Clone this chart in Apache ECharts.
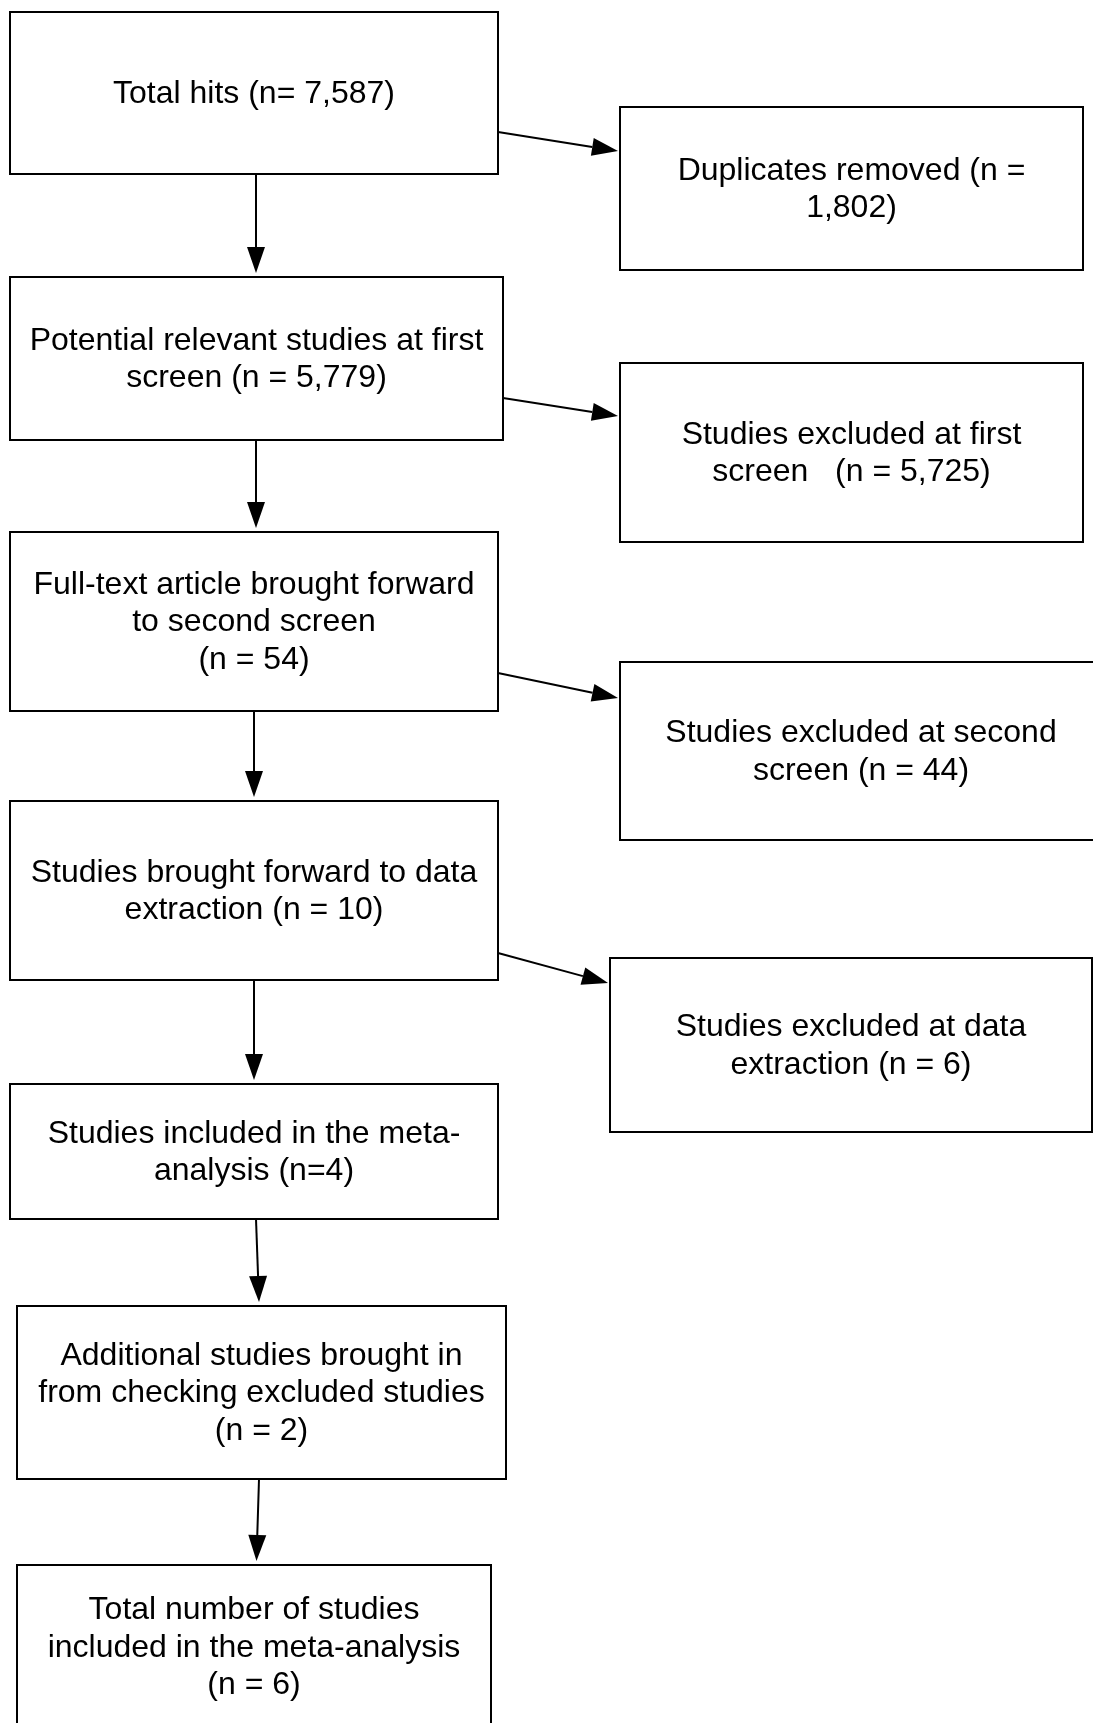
<!DOCTYPE html>
<html>
<head>
<meta charset="utf-8">
<script src="https://cdn.jsdelivr.net/npm/echarts@6/dist/echarts.min.js"></script>
<style>
  html, body { margin: 0; padding: 0; background: #ffffff; }
  #flowChart { width: 1093px; height: 1723px; }
</style>
</head>
<body>
<div id="flowChart"></div>
<script>
// texts of the flow steps
const mainLabels = [
  'Total hits (n= 7,587)',
  'Potential relevant studies at first\nscreen (n = 5,779)',
  'Full-text article brought forward\nto second screen\n(n = 54)',
  'Studies brought forward to data\nextraction (n = 10)',
  'Studies included in the meta-\nanalysis (n=4)',
  'Additional studies brought in\nfrom checking excluded studies\n(n = 2)',
  'Total number of studies\nincluded in the meta-analysis\n(n = 6)'
];
const sideLabels = [
  'Duplicates removed (n =\n1,802)',
  'Studies excluded at first\nscreen   (n = 5,725)',
  'Studies excluded at second\nscreen (n = 44)',
  'Studies excluded at data\nextraction (n = 6)'
];

// layout (axis units = pixels of the page): [x0, y0, x1, y1]
const mainBoxes = [
  [10, 12, 498, 174],
  [10, 277, 503, 440],
  [10, 532, 498, 711],
  [10, 801, 498, 980],
  [10, 1084, 498, 1219],
  [17, 1306, 506, 1479],
  [17, 1565, 491, 1729]
];
const sideBoxes = [
  [620, 107, 1083, 270],
  [620, 363, 1083, 542],
  [620, 662, 1102, 840],
  [610, 958, 1092, 1132]
];
// x of down arrows at start / end
const downArrowX = [[256, 256], [256, 256], [254, 254], [254, 254], [256, 259], [259, 256.5]];
// y of side arrows at start / end
const sideArrowY = [[132, 151], [398, 416], [673, 698], [953, 983]];

const boxData = mainBoxes.map((b, i) => [b[0], b[1], b[2], b[3], i, 0])
  .concat(sideBoxes.map((b, i) => [b[0], b[1], b[2], b[3], i, 1]));

const arrowData = [];
downArrowX.forEach((x, i) => {
  arrowData.push([x[0], mainBoxes[i][3], x[1], mainBoxes[i + 1][1] - 4]);
});
sideArrowY.forEach((y, i) => {
  arrowData.push([mainBoxes[i][2], y[0], sideBoxes[i][0] - 2, y[1]]);
});

const myChart = echarts.init(document.getElementById('flowChart'));

myChart.setOption({
  animation: false,
  backgroundColor: '#ffffff',
  grid: { left: 0, right: 0, top: 0, bottom: 0 },
  xAxis: { type: 'value', min: 0, max: 1093, show: false },
  yAxis: { type: 'value', min: 0, max: 1723, inverse: true, show: false },
  series: [
    {
      type: 'custom',
      name: 'boxes',
      clip: false,
      data: boxData,
      renderItem: function (params, api) {
        const p0 = api.coord([api.value(0), api.value(1)]);
        const p1 = api.coord([api.value(2), api.value(3)]);
        const idx = api.value(4);
        const text = api.value(5) === 0 ? mainLabels[idx] : sideLabels[idx];
        return {
          type: 'group',
          children: [
            {
              type: 'rect',
              shape: { x: p0[0], y: p0[1], width: p1[0] - p0[0], height: p1[1] - p0[1] },
              style: { fill: '#ffffff', stroke: '#000000', lineWidth: 2 }
            },
            {
              type: 'text',
              style: {
                text: text,
                x: (p0[0] + p1[0]) / 2,
                y: (p0[1] + p1[1]) / 2 + 1,
                align: 'center',
                verticalAlign: 'middle',
                fill: '#000000',
                fontSize: 32,
                fontFamily: '"Liberation Sans", Arial, sans-serif',
                lineHeight: 37.5
              }
            }
          ]
        };
      }
    },
    {
      type: 'custom',
      name: 'arrows',
      clip: false,
      data: arrowData,
      renderItem: function (params, api) {
        const a = api.coord([api.value(0), api.value(1)]);
        const b = api.coord([api.value(2), api.value(3)]);
        const dx = b[0] - a[0];
        const dy = b[1] - a[1];
        const len = Math.sqrt(dx * dx + dy * dy);
        const ux = dx / len;
        const uy = dy / len;
        const headLen = 26;
        const headHalf = 9;
        const base = [b[0] - ux * headLen, b[1] - uy * headLen];
        return {
          type: 'group',
          children: [
            {
              type: 'line',
              shape: { x1: a[0], y1: a[1], x2: base[0], y2: base[1] },
              style: { stroke: '#000000', lineWidth: 2 }
            },
            {
              type: 'polygon',
              shape: {
                points: [
                  [b[0], b[1]],
                  [base[0] - uy * headHalf, base[1] + ux * headHalf],
                  [base[0] + uy * headHalf, base[1] - ux * headHalf]
                ]
              },
              style: { fill: '#000000' }
            }
          ]
        };
      }
    }
  ]
});
</script>
</body>
</html>
